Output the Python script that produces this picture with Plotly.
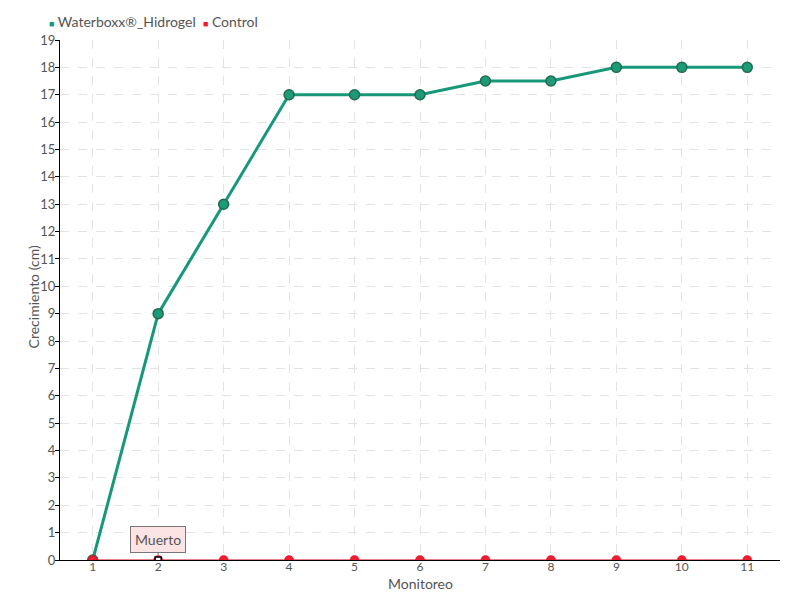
import plotly.graph_objects as go

categories = ["1", "2", "3", "4", "5", "6", "7", "8", "9", "10", "11"]
waterboxx = [0, 9, 13, 17, 17, 17, 17.5, 17.5, 18, 18, 18]
control = [0, 0, 0, 0, 0, 0, 0, 0, 0, 0, 0]
y_ticks = list(range(0, 20))
series_names = ["Waterboxx®_Hidrogel", "Control"]
series_colors = ["#17987a", "#ee1c2e"]
dead_label = "Muerto"
dead_index = 1

FONT = "Lato, Roboto, sans-serif"
TXT = "#555"

fig = go.Figure()
fig.add_trace(go.Scatter(
    x=categories, y=waterboxx, name=series_names[0], mode="lines+markers",
    line=dict(color=series_colors[0], width=3),
    marker=dict(size=10, color="#1d9a78", line=dict(color="#236b4e", width=1.5)),
))
fig.add_trace(go.Scatter(
    x=categories, y=control, name=series_names[1], mode="lines+markers",
    line=dict(color="#d9001b", width=1.2),
    marker=dict(size=9, color=series_colors[1], line=dict(color="#e0001b", width=0.5)),
))
# highlighted (hovered) point under the callout
fig.add_trace(go.Scatter(
    x=[categories[dead_index]], y=[control[dead_index]], mode="markers", showlegend=False,
    marker=dict(symbol="square", size=6, color="white", line=dict(color="black", width=1.5)),
    hoverinfo="skip",
))

# "Muerto" callout
fig.add_annotation(
    x=dead_index, y=control[dead_index], text=dead_label, showarrow=True,
    arrowhead=0, arrowwidth=1, arrowcolor="#777", ax=0, ay=-21, standoff=5,
    bgcolor="#fde4e4", bordercolor="#777", borderwidth=1, borderpad=4,
    font=dict(family=FONT, size=14, color=TXT),
)

# legend drawn as a text line (square symbols)
legend_text = "  ".join(
    f"<span style='color:{c};font-size:9px'>■</span> {n}"
    for n, c in zip(series_names, series_colors)
)
fig.add_annotation(
    xref="paper", yref="paper", x=-0.018, y=1.0365, xanchor="left", yanchor="middle",
    text=legend_text, showarrow=False, font=dict(family=FONT, size=14, color=TXT),
)

# axis titles
fig.add_annotation(
    xref="paper", yref="paper", x=0.5, y=-0.046, xanchor="center", yanchor="middle",
    text="Monitoreo", showarrow=False, font=dict(family=FONT, size=14, color=TXT),
)
fig.add_annotation(
    xref="paper", yref="paper", x=-0.0375, y=0.505, xanchor="center", yanchor="middle",
    text="Crecimiento (cm)", textangle=-90, showarrow=False,
    font=dict(family=FONT, size=14, color=TXT),
)

# page body has an 8px margin: figure is 792x592 so it ends at the window edge
fig.update_layout(
    width=792, height=592,
    margin=dict(l=52, r=20, t=32, b=40, autoexpand=False),
    paper_bgcolor="white", plot_bgcolor="white",
    font=dict(family=FONT, size=13, color=TXT),
    showlegend=False,
    xaxis=dict(
        type="category", range=[-0.5, 10.5], automargin=False,
        showline=True, linecolor="black", linewidth=1,
        showgrid=True, gridcolor="#e3e3e3", griddash="dash", gridwidth=1,
        ticks="", ticklabelstandoff=-4,
        zeroline=False, tickfont=dict(size=12, color=TXT),
    ),
    yaxis=dict(
        range=[0, 19], tickvals=y_ticks, automargin=False,
        showline=True, linecolor="black", linewidth=1,
        showgrid=True, gridcolor="#e3e3e3", griddash="dash", gridwidth=1,
        ticks="outside", ticklen=4, tickcolor="black", ticklabelstandoff=-3,
        zeroline=False, tickfont=dict(size=13, color=TXT),
    ),
)

fig.write_html("out.html")
